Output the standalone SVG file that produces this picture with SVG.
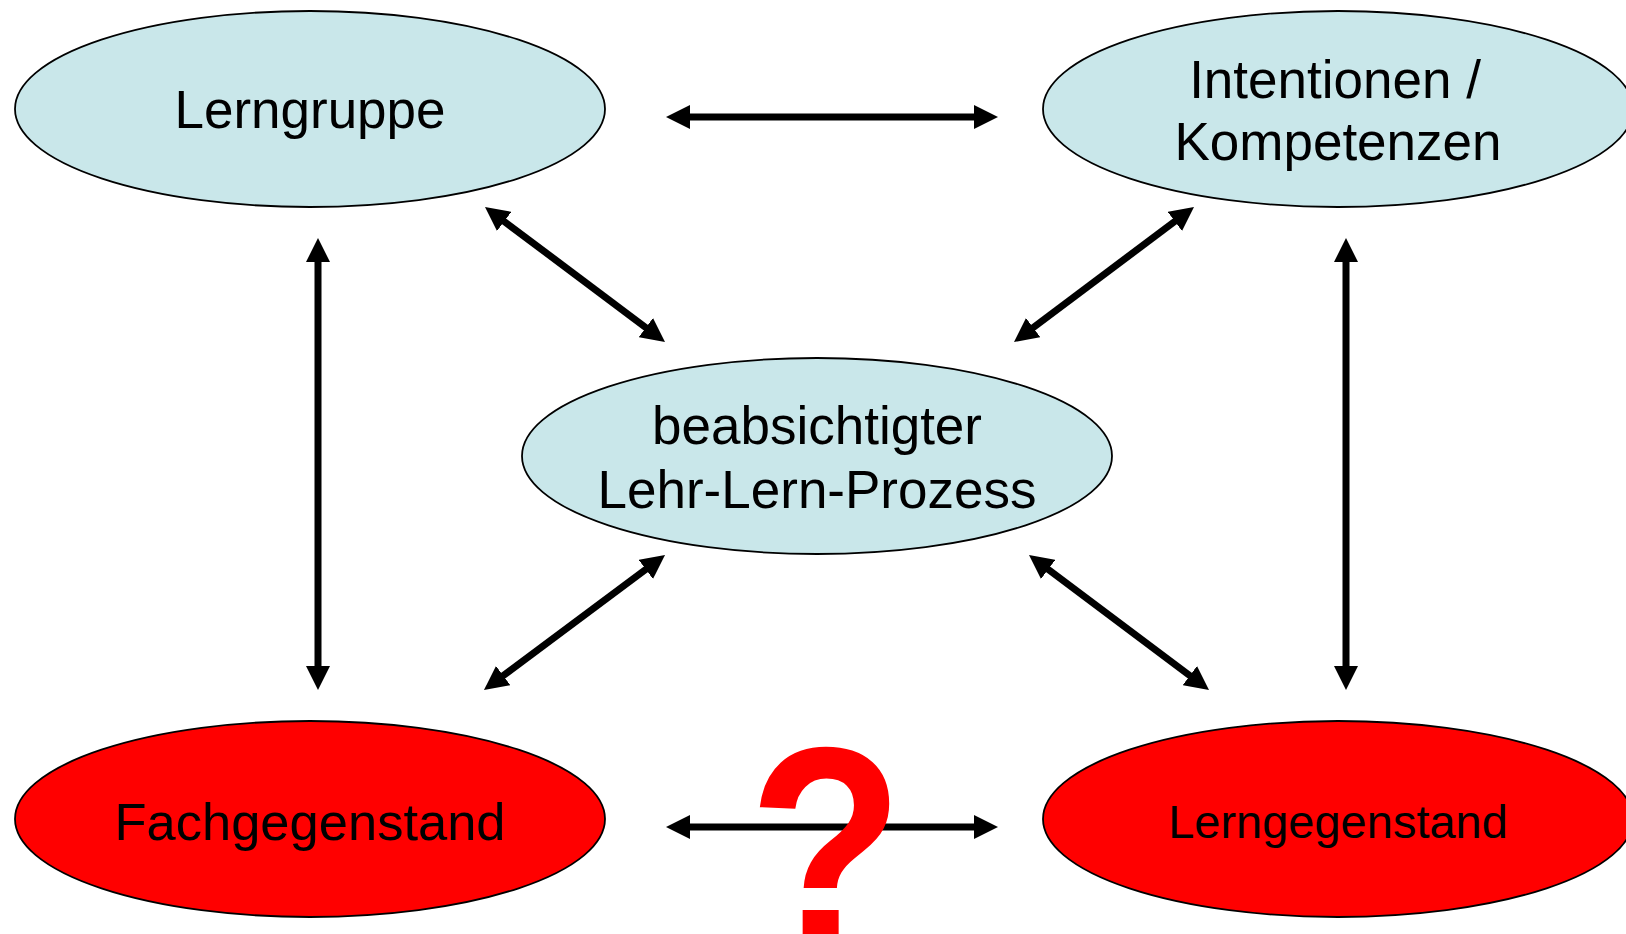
<svg xmlns="http://www.w3.org/2000/svg" width="1626" height="934" viewBox="0 0 1626 934">
<style>
.blue{fill:#c9e7ea;stroke:#000;stroke-width:1.8}
.red{fill:#ff0000;stroke:#000;stroke-width:1.8}
.lbl{font-family:"Liberation Sans",Arial,sans-serif;fill:#000;text-anchor:middle}
.conn line{stroke:#000;stroke-width:7;marker-start:url(#ah);marker-end:url(#ah)}
</style>
<defs>
<marker id="ah" markerUnits="userSpaceOnUse" markerWidth="24" markerHeight="24" refX="4" refY="12" orient="auto-start-reverse" viewBox="0 0 24 24">
<path d="M0,0 L24,12 L0,24 z" fill="#000"/>
</marker>
</defs>
<rect width="1626" height="934" fill="#fff"/>
<g id="lerngruppe">
<ellipse class="blue" cx="310" cy="109" rx="295" ry="98"/>
<text class="lbl" x="310" y="128" font-size="53">Lerngruppe</text>
</g>
<g id="intentionen">
<ellipse class="blue" cx="1338" cy="109" rx="295" ry="98"/>
<text class="lbl" x="1335" y="98" font-size="53">Intentionen /</text>
<text class="lbl" x="1338" y="160" font-size="53">Kompetenzen</text>
</g>
<g id="prozess">
<ellipse class="blue" cx="817" cy="456" rx="295" ry="98"/>
<text class="lbl" x="817" y="444" font-size="53">beabsichtigter</text>
<text class="lbl" x="817" y="508" font-size="53">Lehr-Lern-Prozess</text>
</g>
<g id="fachgegenstand">
<ellipse class="red" cx="310" cy="819" rx="295" ry="98"/>
<text class="lbl" x="310" y="840" font-size="52.5">Fachgegenstand</text>
</g>
<g id="lerngegenstand">
<ellipse class="red" cx="1338" cy="819" rx="295" ry="98"/>
<text class="lbl" x="1338" y="838" font-size="47">Lerngegenstand</text>
</g>
<g id="connectors" class="conn">
<line x1="686" y1="117" x2="978" y2="117"/>
<line x1="686" y1="827" x2="978" y2="827"/>
<line x1="318" y1="258" x2="318" y2="670"/>
<line x1="1346" y1="258" x2="1346" y2="670"/>
<line x1="501" y1="219" x2="649" y2="330"/>
<line x1="1178" y1="219" x2="1030" y2="330"/>
<line x1="649" y1="567" x2="500" y2="678"/>
<line x1="1045" y1="567" x2="1193" y2="678"/>
</g>
<text transform="translate(826,948) scale(1,1.13)" x="0" y="0" font-family="Liberation Sans, Arial, sans-serif" font-weight="bold" font-size="255" fill="#ff0000" text-anchor="middle">?</text>
</svg>
